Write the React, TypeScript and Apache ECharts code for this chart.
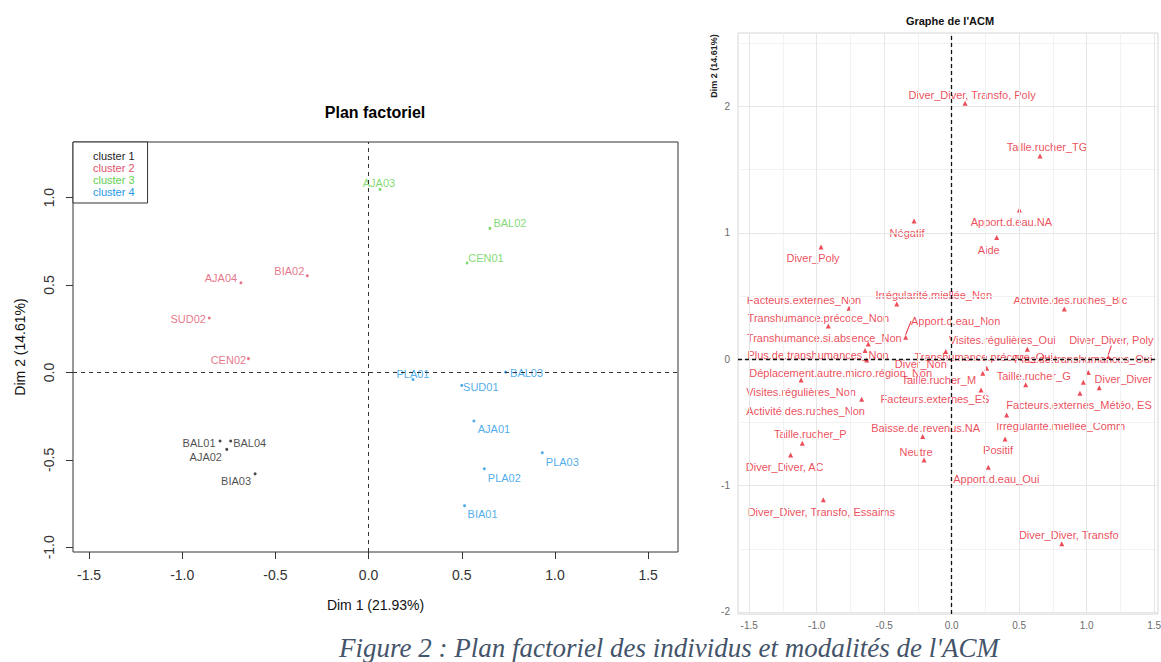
import { useEffect, useRef } from 'react';
import * as echarts from 'echarts';

const SANS = "'Liberation Sans', Arial, sans-serif";
const SERIF = "'Liberation Serif', 'Times New Roman', serif";

// ---- Individus (plan factoriel Dim 1 / Dim 2), par cluster ----
const clusterNames = ['cluster 1', 'cluster 2', 'cluster 3', 'cluster 4'];
const clusterColors = ['#1c1c1c', '#DF536B', '#61D04F', '#2297E6'];

const c1Names = ['BAL01', 'BAL04', 'AJA02', 'BIA03'];
const c1Dim1 = [-0.797, -0.74, -0.761, -0.609];
const c1Dim2 = [-0.392, -0.392, -0.44, -0.58];

const c2Names = ['AJA04', 'BIA02', 'SUD02', 'CEN02'];
const c2Dim1 = [-0.685, -0.329, -0.855, -0.645];
const c2Dim2 = [0.513, 0.553, 0.311, 0.079];

const c3Names = ['AJA03', 'BAL02', 'CEN01'];
const c3Dim1 = [0.061, 0.651, 0.528];
const c3Dim2 = [1.047, 0.824, 0.626];

const c4Names = ['PLA01', 'BAL03', 'SUD01', 'AJA01', 'PLA03', 'PLA02', 'BIA01'];
const c4Dim1 = [0.238, 0.735, 0.5, 0.565, 0.932, 0.621, 0.515];
const c4Dim2 = [-0.04, 0.002, -0.074, -0.278, -0.459, -0.551, -0.762];

// label placement next to each individual (px)
const c1Nudge = [[-21, 2], [19, 2], [-21, 8], [-19, 7]];
const c2Nudge = [[-20, -5], [-18, -5], [-21, 1], [-20, 1]];
const c3Nudge = [[-1, -6], [20, -5], [19, -5]];
const c4Nudge = [[0, -5], [21, 1], [19, 2], [20, 8], [20, 9], [20, 9], [18, 8]];

const indivXTicks = [-1.5, -1, -0.5, 0, 0.5, 1, 1.5];
const indivYTicks = [-1, -0.5, 0, 0.5, 1];

// ---- Modalités (graphe des variables de l'ACM) ----
const modNames = [
  'Diver_Diver, Transfo, Poly', 'Taille.rucher_TG', 'Apport.d.eau.NA', 'Aide',
  'Activité.des.ruches_Blc', 'Négatif', 'Diver_Poly', 'Facteurs.externes_Non',
  'Irrégularité.miellée_Non', 'Transhumance.précoce_Non', 'Apport.d.eau_Non',
  'Transhumance.si.absence_Non', 'Plus.de.transhumances_Non',
  'Déplacement.autre.micro.région_Non', 'Visites.régulières_Non',
  'Activité.des.ruches_Non', 'Taille.rucher_P', 'Diver_Diver, AC',
  'Diver_Diver, Transfo, Essaims', 'Baisse.de.revenus.NA', 'Neutre', 'Positif',
  'Apport.d.eau_Oui', 'Diver_Diver, Transfo', 'Visites.régulières_Oui',
  'Diver_Diver, Poly', 'Plus.de.transhumances_Oui', 'Taille.rucher_G',
  'Diver_Diver', 'Facteurs.externes_Météo, ES', 'Irrégularité.miellée_Comm',
  'Diver_Non', 'Transhumance.précoce_Oui', 'Taille.rucher_M',
  'Facteurs.externes_ES', '',
];
const modDim1 = [
  0.099, 0.654, 0.501, 0.333, 0.834, -0.279, -0.968, -0.761, -0.407, -0.914,
  -0.341, -0.618, -0.642, -0.63, -1.116, -0.667, -1.107, -1.193, -0.951,
  -0.215, -0.205, 0.395, 0.271, 0.815, 0.56, 1.16, 1.012, 0.548, 1.093, 0.95,
  0.407, -0.044, 0.259, 0.23, 0.217, 0.975,
];
const modDim2 = [
  2.025, 1.608, 1.181, 0.962, 0.398, 1.094, 0.888, 0.403, 0.437, 0.263,
  0.174, 0.121, 0.068, -0.006, -0.164, -0.316, -0.665, -0.757, -1.113,
  -0.612, -0.797, -0.631, -0.854, -1.461, 0.079, 0.016, -0.106, -0.203,
  -0.225, -0.269, -0.441, 0.06, -0.071, -0.111, -0.243, -0.182,
];
const modNudge = [
  [7, -8], [7, -9], [-8, 12], [-8, 12], [6, -9], [-7, 12], [-8, 11], [-45, -8],
  [37, -9], [-10, -8], [50, -16], [-44, -6], [-47, 4], [-26, 13], [0, 12],
  [-56, 12], [8, -9], [-6, 12], [-2, 12], [3, -9], [-8, -8], [-7, 11], [8, 12],
  [7, -9], [-25, -9], [3, -17], [-5, -14], [8, -9], [24, -9], [-1, 12],
  [54, 11], [-25, 12], [-3, -11], [-44, 7], [-46, 9], [0, 0],
];
const modWithSegment = ['Apport.d.eau_Non', 'Diver_Diver, Poly'];

const modXTicks = [-1.5, -1, -0.5, 0, 0.5, 1, 1.5];
const modYTicks = [-2, -1, 0, 1, 2];
const modXMinor = [-1.25, -0.75, -0.25, 0.25, 0.75, 1.25];
const modYMinor = [-1.5, -0.5, 0.5, 1.5, 2.5];

const RED = '#E8202F';

function buildOption() {
  const clusters = [
    [c1Names, c1Dim1, c1Dim2, c1Nudge],
    [c2Names, c2Dim1, c2Dim2, c2Nudge],
    [c3Names, c3Dim1, c3Dim2, c3Nudge],
    [c4Names, c4Dim1, c4Dim2, c4Nudge],
  ] as [string[], number[], number[], number[][]][];

  const clusterSeries = clusters.map(([names, d1, d2, nudge], i) => ({
    type: 'scatter',
    name: clusterNames[i],
    xAxisIndex: 0,
    yAxisIndex: 0,
    z: 3,
    symbol: 'circle',
    symbolSize: 3,
    itemStyle: { color: clusterColors[i] },
    label: {
      show: true,
      position: 'inside',
      formatter: '{b}',
      fontSize: 11,
      fontFamily: SANS,
      color: clusterColors[i],
    },
    data: names.map((n, k) => ({
      name: n,
      value: [d1[k], d2[k]],
      label: { offset: nudge[k] },
    })),
  }));

  const dashed = (color: string, dash: number[], width: number) => ({
    silent: true,
    symbol: 'none',
    label: { show: false },
    lineStyle: { color, type: dash, width },
    emphasis: { disabled: true },
  });

  return {
    animation: false,
    backgroundColor: '#ffffff',
    textStyle: { fontFamily: SANS },
    title: [
      {
        text: 'Plan factoriel',
        left: 375,
        top: 104,
        padding: 0,
        textAlign: 'center',
        textStyle: { fontSize: 16, fontWeight: 'bold', color: '#000', fontFamily: SANS },
      },
      {
        text: "Graphe de l'ACM",
        left: 950,
        top: 15,
        padding: 0,
        textAlign: 'center',
        textStyle: { fontSize: 11, fontWeight: 'bold', color: '#111', fontFamily: SANS },
      },
    ],
    legend: {
      left: 73,
      top: 142,
      orient: 'vertical',
      padding: [8, 13, 5, 15],
      itemGap: 0,
      itemWidth: 0,
      itemHeight: 12,
      borderColor: '#333',
      borderWidth: 1,
      backgroundColor: '#fff',
      selectedMode: false,
      data: clusterNames.map((n, i) => ({ name: n, textStyle: { color: clusterColors[i] } })),
      textStyle: { fontSize: 11, lineHeight: 12, fontFamily: SANS, padding: 0 },
    },
    grid: [
      {
        left: 73, top: 142, width: 605, height: 410,
        show: true, borderColor: '#333', borderWidth: 1,
        backgroundColor: 'transparent', containLabel: false, outerBoundsMode: 'none',
      },
      {
        left: 738, top: 33, width: 420, height: 581,
        show: true, borderColor: '#d6d6d6', borderWidth: 1,
        backgroundColor: 'transparent', containLabel: false, outerBoundsMode: 'none',
      },
    ],
    xAxis: [
      {
        gridIndex: 0, type: 'value', min: -1.586, max: 1.66,
        axisLine: { show: false, onZero: false },
        axisTick: { show: true, length: 7, customValues: indivXTicks, lineStyle: { color: '#333' } },
        axisLabel: {
          customValues: indivXTicks, formatter: (v: number) => v.toFixed(1),
          fontSize: 14, color: '#333', margin: 16, fontFamily: SANS,
        },
        splitLine: { show: false },
        name: 'Dim 1 (21.93%)', nameLocation: 'middle', nameGap: 46, nameMoveOverlap: false,
        nameTextStyle: { fontSize: 14, color: '#111', fontFamily: SANS },
      },
      {
        gridIndex: 1, type: 'value', min: -1.583, max: 1.528,
        axisLine: { show: false, onZero: false },
        axisTick: { show: false },
        axisLabel: {
          customValues: modXTicks, formatter: (v: number) => v.toFixed(1),
          fontSize: 10, color: '#6b6b6b', margin: 6, fontFamily: SANS,
        },
        splitLine: { show: false },
      },
    ],
    yAxis: [
      {
        gridIndex: 0, type: 'value', min: -1.027, max: 1.318,
        axisLine: { show: false, onZero: false },
        axisTick: { show: true, length: 7, customValues: indivYTicks, lineStyle: { color: '#333' } },
        axisLabel: {
          customValues: indivYTicks, formatter: (v: number) => v.toFixed(1),
          fontSize: 14, color: '#333', margin: 17, rotate: 90, fontFamily: SANS,
        },
        splitLine: { show: false },
        name: 'Dim 2 (14.61%)', nameLocation: 'middle', nameGap: 46, nameMoveOverlap: false,
        nameTextStyle: { fontSize: 14, color: '#111', fontFamily: SANS },
      },
      {
        gridIndex: 1, type: 'value', min: -2.016, max: 2.581,
        axisLine: { show: false, onZero: false },
        axisTick: { show: false },
        axisLabel: {
          customValues: modYTicks, formatter: (v: number) => String(v),
          fontSize: 10, color: '#6b6b6b', margin: 8, fontFamily: SANS,
        },
        splitLine: { show: false },
      },
    ],
    series: [
      // axes through the origin, individuals plot
      {
        type: 'scatter', xAxisIndex: 0, yAxisIndex: 0, z: 2, data: [],
        markLine: { ...dashed('#333', [4, 4], 1), data: [{ xAxis: 0 }, { yAxis: 0 }] },
      },
      ...clusterSeries,
      // background grid, variables plot
      {
        type: 'scatter', xAxisIndex: 1, yAxisIndex: 1, z: 1, data: [],
        markLine: {
          silent: true, symbol: 'none', label: { show: false }, emphasis: { disabled: true },
          data: [
            ...modXMinor.map((v) => ({ xAxis: v, lineStyle: { color: '#f2f2f2', width: 1, type: 'solid' } })),
            ...modYMinor.map((v) => ({ yAxis: v, lineStyle: { color: '#f2f2f2', width: 1, type: 'solid' } })),
            ...modXTicks.map((v) => ({ xAxis: v, lineStyle: { color: '#e6e6e6', width: 1, type: 'solid' } })),
            ...modYTicks.map((v) => ({ yAxis: v, lineStyle: { color: '#e6e6e6', width: 1, type: 'solid' } })),
          ],
        },
      },
      {
        type: 'scatter', xAxisIndex: 1, yAxisIndex: 1, z: 2, data: [],
        markLine: { ...dashed('#111', [4, 3], 1.3), data: [{ xAxis: 0 }, { yAxis: 0 }] },
      },
      {
        type: 'scatter',
        name: 'Modalités',
        xAxisIndex: 1,
        yAxisIndex: 1,
        z: 3,
        symbol: 'triangle',
        symbolSize: 5,
        itemStyle: { color: RED },
        label: {
          show: true,
          position: 'inside',
          formatter: '{b}',
          fontSize: 11,
          fontFamily: SANS,
          color: RED,
        },
        labelLine: { show: false, lineStyle: { color: RED, width: 1 } },
        labelLayout: (p: any) => {
          const n = modNudge[p.dataIndex] || [0, 0];
          return { dx: n[0], dy: n[1] };
        },
        data: modNames.map((n, k) => ({
          name: n,
          value: [modDim1[k], modDim2[k]],
          labelLine: { show: modWithSegment.includes(n) },
        })),
      },
    ],
    graphic: [
      {
        type: 'text',
        x: 714,
        y: 66,
        rotation: Math.PI / 2,
        style: {
          text: 'Dim 2 (14.61%)',
          fontSize: 9,
          fontWeight: 'bold',
          fontFamily: SANS,
          fill: '#222',
          align: 'center',
          verticalAlign: 'middle',
        },
      },
      {
        type: 'text',
        x: 669,
        y: 648,
        style: {
          text: "Figure 2 : Plan factoriel des individus et modalités de l'ACM",
          fontSize: 27,
          fontStyle: 'italic',
          fontFamily: SERIF,
          fill: '#44546A',
          align: 'center',
          verticalAlign: 'middle',
        },
      },
    ],
  };
}

export default function App() {
  const ref = useRef<HTMLDivElement>(null);
  useEffect(() => {
    if (!ref.current) return;
    const chart = echarts.init(ref.current, null, { renderer: 'svg' });
    chart.setOption(buildOption() as any);
    return () => chart.dispose();
  }, []);
  return (
    <div
      ref={ref}
      style={{ position: 'fixed', left: 0, top: 0, width: 1161, height: 662, background: '#fff' }}
    />
  );
}
